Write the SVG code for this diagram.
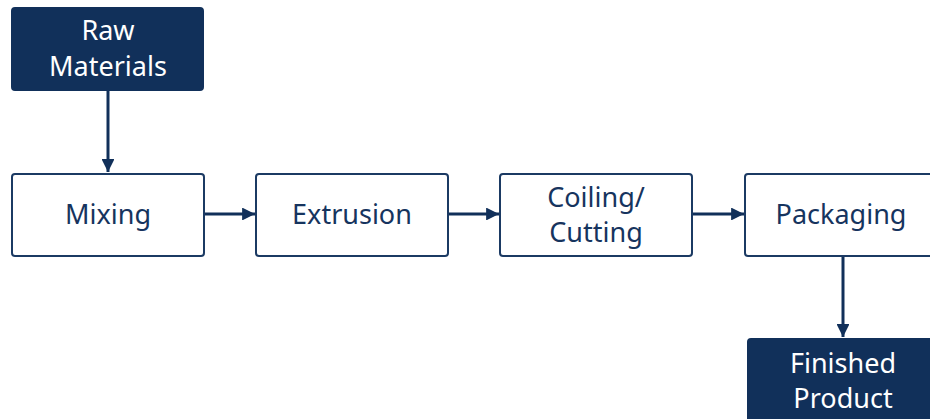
<svg xmlns="http://www.w3.org/2000/svg" width="930" height="419" viewBox="0 0 930 419">
<style>
.box{fill:#ffffff;stroke:#1b3a63;stroke-width:2}
.dark{fill:#11305a;stroke:#11305a;stroke-width:2}
.t{font-family:"Noto Sans","Open Sans",sans-serif;font-size:27px;text-anchor:middle;fill:#16345e}
.tw{font-family:"Noto Sans","Open Sans",sans-serif;font-size:27px;text-anchor:middle;fill:#ffffff}
.c{stroke:#11305a;stroke-width:3;fill:none;marker-end:url(#ah)}
</style>
<defs>
<marker id="ah" viewBox="0 0 10 10" refX="10" refY="5" markerWidth="4.3" markerHeight="4.3" orient="auto" markerUnits="strokeWidth">
<path d="M0,0 L10,5 L0,10 z" fill="#11305a"/>
</marker>
</defs>
<g id="connectors">
<line class="c" x1="108" y1="90" x2="108" y2="172"/>
<line class="c" x1="204" y1="214" x2="255" y2="214"/>
<line class="c" x1="448" y1="214" x2="499" y2="214"/>
<line class="c" x1="692" y1="214" x2="744" y2="214"/>
<line class="c" x1="843" y1="256" x2="843" y2="337"/>
</g>
<g id="raw">
<rect class="dark" x="12" y="8" width="191" height="82" rx="3"/>
<text class="tw" x="108" y="40">Raw</text>
<text class="tw" x="108" y="76">Materials</text>
</g>
<g id="mixing">
<rect class="box" x="12" y="174" width="192" height="82" rx="3"/>
<text class="t" x="108" y="224">Mixing</text>
</g>
<g id="extrusion">
<rect class="box" x="256" y="174" width="192" height="82" rx="3"/>
<text class="t" x="352" y="224">Extrusion</text>
</g>
<g id="coiling">
<rect class="box" x="500" y="174" width="192" height="82" rx="3"/>
<text class="t" x="596" y="207">Coiling/</text>
<text class="t" x="596" y="242">Cutting</text>
</g>
<g id="packaging">
<rect class="box" x="745" y="174" width="192" height="82" rx="3"/>
<text class="t" x="841" y="224">Packaging</text>
</g>
<g id="finished">
<rect class="dark" x="748" y="339" width="192" height="82" rx="3"/>
<text class="tw" x="843" y="373">Finished</text>
<text class="tw" x="843" y="408">Product</text>
</g>
</svg>
